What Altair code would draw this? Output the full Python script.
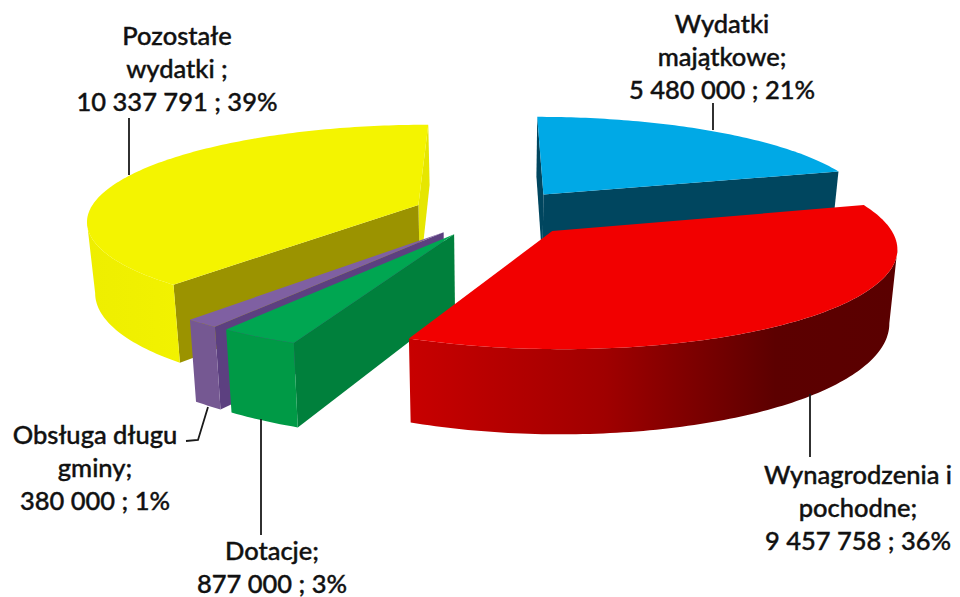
import math
import altair as alt
import pandas as pd

# ---- data ----
categories = ["Wydatki majątkowe", "Wynagrodzenia i pochodne", "Dotacje", "Obsługa długu gminy", "Pozostałe wydatki"]
values = [5480000, 9457758, 877000, 380000, 10337791]
percents = [21, 36, 3, 1, 39]
label_breaks = ["Wydatki\nmajątkowe;", "Wynagrodzenia i\npochodne;", "Dotacje;", "Obsługa długu\ngminy;", "Pozostałe\nwydatki ;"]

# ---- style ----
top_colors = ["#00A9E6", "#F20000", "#00A651", "#7F60A2", "#F4F400"]
outer_stops = [
    [(0, "#00465F"), (1, "#00465F")],
    [(0, "#C80000"), (0.4, "#A00000"), (0.75, "#5C0000"), (1, "#5A0000")],
    [(0, "#009A46"), (1, "#009A46")],
    [(0, "#755892"), (1, "#755892")],
    [(0, "#EEEE00"), (1, "#F2F200")],
]
# wall on the start-angle / end-angle edge of each slice (None = hidden)
start_walls = ["#00465F", None, "#00803C", "#5C4080", "#9B9300"]
end_walls = ["#00465F", None, None, None, "#E6E600"]
draw_order = [4, 0, 3, 2, 1]

# ---- projection of the 3D pie (screen pixels) ----
CX, CY, RX, RY, PERSP, EXPLODE, DEPTH, BOTTOM_SHRINK = 495, 212.8, 330, 94.4, 0.15, 0.25, 70, 0.98
PAGE = 8
nudge_x = [0, 1, 0, 0, 0]


def project(xw, yw, bottom=False, dx=0):
    w = 1 - PERSP * yw
    x = CX + RX * xw / w
    y = CY + RY * yw / w
    if bottom:
        x = CX + (x - CX) * BOTTOM_SHRINK
        y += DEPTH / w
    return [x + dx, y]


def unit(deg):
    a = math.radians(deg)
    return math.sin(a), -math.cos(a)


def feature(points):
    ring = points + [points[0]]
    return {"type": "Feature", "properties": {}, "geometry": {"type": "Polygon", "coordinates": [ring]}}


def shape(geo, **mark):
    data = alt.InlineData(values={"type": "FeatureCollection", "features": geo},
                          format=alt.DataFormat(type="json", property="features"))
    return alt.Chart(data).mark_geoshape(**mark).project(type="identity", scale=1, translate=[-PAGE, -PAGE])


def silhouette(points):
    """The stretch of a front rim between its leftmost and rightmost points."""
    xs = [p[0] for p in points]
    lo, hi = sorted((xs.index(min(xs)), xs.index(max(xs))))
    return points[lo:hi + 1]


layers = []
total = sum(values)
edges = [0]
for v in values:
    edges.append(edges[-1] + 360 * v / total)

for i in draw_order:
    a0, a1 = edges[i], edges[i + 1]
    mx, my = unit((a0 + a1) / 2)
    ex, ey = EXPLODE * mx, EXPLODE * my
    n = max(2, int(a1 - a0) + 1)
    angles = [a0 + (a1 - a0) * k / n for k in range(n + 1)]
    rim = [unit(a) for a in angles]
    top_rim = [project(ex + u, ey + v, False, nudge_x[i]) for u, v in rim]
    bot_rim = [project(ex + u, ey + v, True, nudge_x[i]) for u, v in rim]
    apex_t = project(ex, ey, False, nudge_x[i])
    apex_b = project(ex, ey, True, nudge_x[i])

    if end_walls[i]:
        wall = [apex_t, top_rim[-1], bot_rim[-1], apex_b]
        layers.append(shape([feature(wall)], fill=end_walls[i], strokeWidth=0))
    if start_walls[i]:
        wall = [apex_t, top_rim[0], bot_rim[0], apex_b]
        layers.append(shape([feature(wall)], fill=start_walls[i], strokeWidth=0))
    # the curved wall is only seen along the part of the rim that faces the viewer
    front = [k for k, (u, v) in enumerate(rim) if v >= -0.03]
    if len(front) >= 2:
        grad = alt.LinearGradient(gradient="linear", x1=0, x2=1, y1=0, y2=0,
                                  stops=[alt.GradientStop(offset=o, color=c) for o, c in outer_stops[i]])
        t = silhouette([top_rim[k] for k in front])
        b = silhouette([bot_rim[k] for k in front])
        layers.append(shape([feature(t + b[::-1])], fill=grad, strokeWidth=0))
    layers.append(shape([feature([apex_t] + top_rim)], fill=top_colors[i], strokeWidth=0))

# ---- leader lines ----
leaders = [
    [[713, 103], [713, 130]],
    [[810, 394], [810, 457]],
    [[261, 419], [261, 535]],
    [[208, 407], [198, 440], [186, 441]],
    [[129, 118], [129, 175]],
]
line_geo = [{"type": "Feature", "properties": {}, "geometry": {"type": "LineString", "coordinates": c}} for c in leaders]
layers.append(shape(line_geo, filled=False, stroke="#1A1A1A", strokeWidth=1.8))


# ---- labels ----
def money(v):
    return f"{v:,}".replace(",", " ")


labels = [f"{b}\n{money(v)} ; {p}%" for b, v, p in zip(label_breaks, values, percents)]
label_x = [722, 858, 272, 95, 177]
label_y = [12.5, 464, 540, 424, 25]
text_df = pd.DataFrame({"label": labels, "x": [x - PAGE for x in label_x], "y": [y - PAGE for y in label_y]})
text = alt.Chart(text_df).mark_text(
    lineBreak="\n", lineHeight=33, font="Lato", fontSize=25.5, fontWeight=500,
    color="#111111", stroke="#111111", strokeWidth=0.4, align="center", baseline="top",
).encode(x=alt.X("x:Q", scale=None), y=alt.Y("y:Q", scale=None), text="label:N")
layers.append(text)

chart = alt.layer(*layers).properties(
    width=944, height=589, padding=0, background="white",
    autosize=alt.AutoSizeParams(type="none"),
).configure_view(stroke=None)
chart.save("out.html", embed_options={"renderer": "svg", "actions": False})
